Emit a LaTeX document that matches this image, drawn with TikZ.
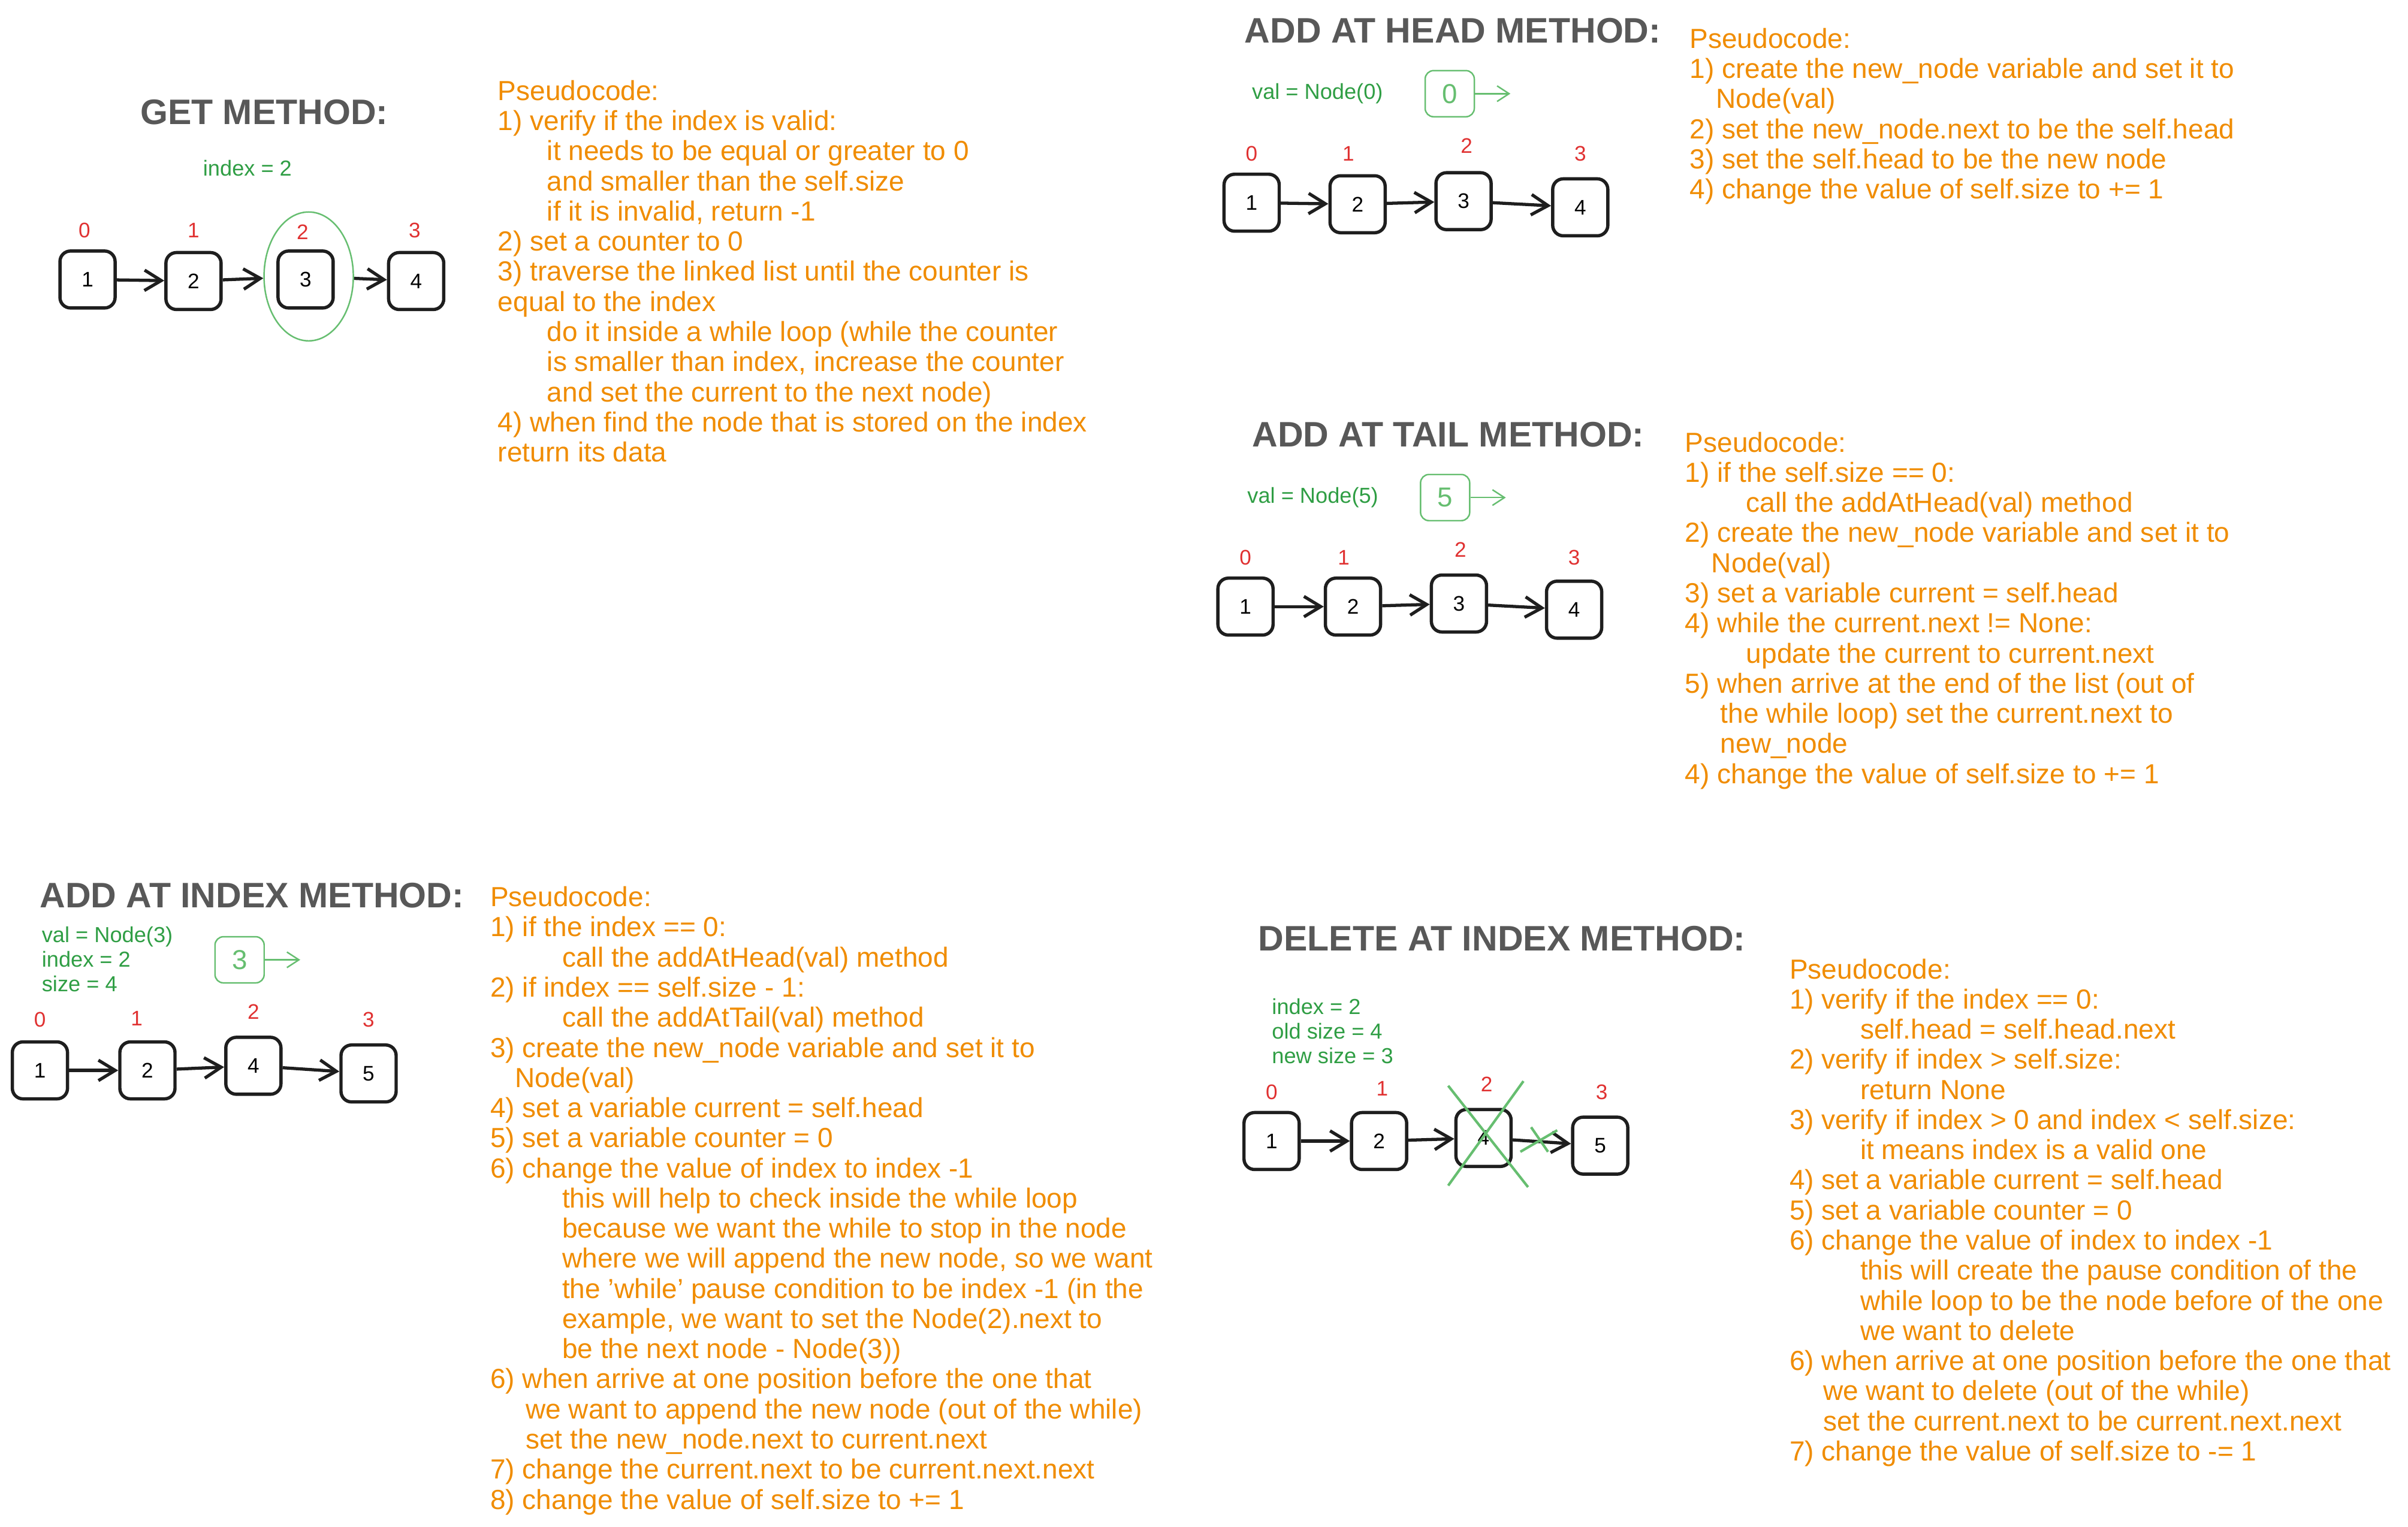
\documentclass[tikz,border=0pt]{standalone}
\usepackage{fontspec}
\setmainfont{Liberation Sans}
\usetikzlibrary{arrows.meta,positioning,shapes.geometric}
\definecolor{codeorange}{RGB}{240,140,0}
\definecolor{vargreen}{RGB}{47,158,68}
\definecolor{markgreen}{RGB}{102,190,112}
\definecolor{idxred}{RGB}{224,49,49}
\definecolor{titlegray}{RGB}{88,88,88}
\definecolor{boxblack}{RGB}{30,30,30}

\begin{document}
\begin{tikzpicture}[x=0.025625cm, y=-0.025625cm,
    nodebox/.style={rectangle, rounded corners=5pt, draw=boxblack, line width=1.55pt,
                    minimum width=0.92cm, minimum height=0.95cm, inner sep=0pt,
                    font=\fontsize{10}{12}\selectfont},
    newbox/.style={rectangle, rounded corners=4pt, draw=markgreen, line width=0.7pt,
                   minimum width=0.82cm, minimum height=0.77cm, inner sep=0pt,
                   text=markgreen, font=\fontsize{13}{15}\selectfont},
    idx/.style={text=idxred, font=\fontsize{10}{12}\selectfont, inner sep=0pt},
    vars/.style={text=vargreen, font=\fontsize{10.3}{11.7}\selectfont,
                 align=left, anchor=north west, inner sep=0pt},
    heading/.style={text=titlegray, font=\fontsize{16.8}{20}\selectfont\bfseries, inner sep=0pt},
    pseudo/.style={text=codeorange, font=\fontsize{13.1}{14.3}\selectfont,
                   align=left, anchor=north west, inner sep=0pt},
    link/.style={-{Straight Barb[length=2.8mm,width=3.4mm]}, line width=1.5pt, draw=boxblack},
    newlink/.style={-{Straight Barb[length=2mm,width=2.6mm]}, line width=0.7pt, draw=markgreen},
    cross/.style={draw=markgreen, line width=1.2pt}
  ]
    \fill[white] (0,0) rectangle (1568,994);
    \useasboundingbox (0,0) rectangle (1568,994);

    % get method
    \node[heading] (gettitle) at (172,73) {GET METHOD:};
    \node[vars] (getvars) at (132,104) {index = 2};
    \node[idx] (gi0) at (55,150) {0};
    \node[idx] (gi1) at (126,150) {1};
    \node[idx] (gi2) at (197,151) {2};
    \node[idx] (gi3) at (270,150) {3};
    \node[nodebox] (g1) at (57,182) {1};
    \node[nodebox] (g2) at (126,183) {2};
    \node[nodebox] (g3) at (199,182) {3};
    \node[nodebox] (g4) at (271,183) {4};
    \node[ellipse, draw=markgreen, line width=0.7pt, minimum width=1.49cm,
          minimum height=2.15cm, inner sep=0pt] (ring) at (201,180) {};
    \draw[link] (g1) -- (g2);
    \draw[link] (g2) -- (ring);
    \draw[link] (ring) -- (g4);
    \node[pseudo] (getcode) at (324,52) {Pseudocode:\\
      1) verify if the index is valid:\\
      \hspace*{0.82cm}it needs to be equal or greater to 0\\
      \hspace*{0.82cm}and smaller than the self.size\\
      \hspace*{0.82cm}if it is invalid, return -1\\
      2) set a counter to 0\\
      3) traverse the linked list until the counter is\\
      equal to the index\\
      \hspace*{0.82cm}do it inside a while loop (while the counter\\
      \hspace*{0.82cm}is smaller than index, increase the counter\\
      \hspace*{0.82cm}and set the current to the next node)\\
      4) when find the node that is stored on the index\\
      return its data};

    % add at head method
    \node[heading] (headtitle) at (946,20) {ADD AT HEAD METHOD:};
    \node[vars] (headvars) at (815,54) {val = Node(0)};
    \node[newbox] (hnew) at (944,61) {0};
    \coordinate[right=0.59cm of hnew] (hnewtip);
    \draw[newlink] (hnew) -- (hnewtip);
    \node[idx] (hi0) at (815,100) {0};
    \node[idx] (hi1) at (878,100) {1};
    \node[idx] (hi2) at (955,95) {2};
    \node[idx] (hi3) at (1029,100) {3};
    \node[nodebox] (h1) at (815,132) {1};
    \node[nodebox] (h2) at (884,133) {2};
    \node[nodebox] (h3) at (953,131) {3};
    \node[nodebox] (h4) at (1029,135) {4};
    \draw[link] (h1) -- (h2);
    \draw[link] (h2) -- (h3);
    \draw[link] (h3) -- (h4);
    \node[pseudo] (headcode) at (1100,18) {Pseudocode:\\
      1) create the new\_node variable and set it to\\
      \hspace*{0.44cm}Node(val)\\
      2) set the new\_node.next to be the self.head\\
      3) set the self.head to be the new node\\
      4) change the value of self.size to += 1};

    % add at tail method
    \node[heading] (tailtitle) at (943,283) {ADD AT TAIL METHOD:};
    \node[vars] (tailvars) at (812,317) {val = Node(5)};
    \node[newbox] (tnew) at (941,324) {5};
    \coordinate[right=0.59cm of tnew] (tnewtip);
    \draw[newlink] (tnew) -- (tnewtip);
    \node[idx] (ti0) at (811,363) {0};
    \node[idx] (ti1) at (875,363) {1};
    \node[idx] (ti2) at (951,358) {2};
    \node[idx] (ti3) at (1025,363) {3};
    \node[nodebox] (t1) at (811,395) {1};
    \node[nodebox] (t2) at (881,395) {2};
    \node[nodebox] (t3) at (950,393) {3};
    \node[nodebox] (t4) at (1025,397) {4};
    \draw[link] (t1) -- (t2);
    \draw[link] (t2) -- (t3);
    \draw[link] (t3) -- (t4);
    \node[pseudo] (tailcode) at (1097,281) {Pseudocode:\\
      1) if the self.size == 0:\\
      \hspace*{1.02cm}call the addAtHead(val) method\\
      2) create the new\_node variable and set it to\\
      \hspace*{0.44cm}Node(val)\\
      3) set a variable current = self.head\\
      4) while the current.next != None:\\
      \hspace*{1.02cm}update the current to current.next\\
      5) when arrive at the end of the list (out of\\
      \hspace*{0.59cm}the while loop) set the current.next to\\
      \hspace*{0.59cm}new\_node\\
      4) change the value of self.size to += 1};

    % add at index method
    \node[heading] (indextitle) at (164,583) {ADD AT INDEX METHOD:};
    \node[vars] (indexvars) at (27,603) {val = Node(3)\\index = 2\\size = 4};
    \node[newbox] (inew) at (156,625) {3};
    \coordinate[right=0.59cm of inew] (inewtip);
    \draw[newlink] (inew) -- (inewtip);
    \node[idx] (ii0) at (26,664) {0};
    \node[idx] (ii1) at (89,663) {1};
    \node[idx] (ii2) at (165,659) {2};
    \node[idx] (ii3) at (240,664) {3};
    \node[nodebox] (i1) at (26,697) {1};
    \node[nodebox] (i2) at (96,697) {2};
    \node[nodebox] (i3) at (165,694) {4};
    \node[nodebox] (i4) at (240,699) {5};
    \draw[link] (i1) -- (i2);
    \draw[link] (i2) -- (i3);
    \draw[link] (i3) -- (i4);
    \node[pseudo] (indexcode) at (319,577) {Pseudocode:\\
      1) if the index == 0:\\
      \hspace*{1.2cm}call the addAtHead(val) method\\
      2) if index == self.size - 1:\\
      \hspace*{1.2cm}call the addAtTail(val) method\\
      3) create the new\_node variable and set it to\\
      \hspace*{0.41cm}Node(val)\\
      4) set a variable current = self.head\\
      5) set a variable counter = 0\\
      6) change the value of index to index -1\\
      \hspace*{1.2cm}this will help to check inside the while loop\\
      \hspace*{1.2cm}because we want the while to stop in the node\\
      \hspace*{1.2cm}where we will append the new node, so we want\\
      \hspace*{1.2cm}the 'while' pause condition to be index -1 (in the\\
      \hspace*{1.2cm}example, we want to set the Node(2).next to\\
      \hspace*{1.2cm}be the next node - Node(3))\\
      6) when arrive at one position before the one that\\
      \hspace*{0.59cm}we want to append the new node (out of the while)\\
      \hspace*{0.59cm}set the new\_node.next to current.next\\
      7) change the current.next to be current.next.next\\
      8) change the value of self.size to += 1};

    % delete at index method
    \node[heading] (deletetitle) at (978,611) {DELETE AT INDEX METHOD:};
    \node[vars] (deletevars) at (828,650) {index = 2\\old size = 4\\new size = 3};
    \node[idx] (di0) at (828,711) {0};
    \node[idx] (di1) at (900,709) {1};
    \node[idx] (di2) at (968,706) {2};
    \node[idx] (di3) at (1043,711) {3};
    \node[nodebox] (d1) at (828,743) {1};
    \node[nodebox] (d2) at (898,743) {2};
    \node[nodebox] (d3) at (966,741) {4};
    \node[nodebox] (d4) at (1042,746) {5};
    \draw[link] (d1) -- (d2);
    \draw[link] (d2) -- (d3);
    \draw[link] (d3) -- (d4);
    \draw[cross] (943,707) -- (995,773);
    \draw[cross] (992,704) -- (943,772);
    \draw[cross] (997,734) -- (1008,750);
    \draw[cross] (1014,736) -- (990,750);
    \node[pseudo] (deletecode) at (1165,624) {Pseudocode:\\
      1) verify if the index == 0:\\
      \hspace*{1.18cm}self.head = self.head.next\\
      2) verify if index > self.size:\\
      \hspace*{1.18cm}return None\\
      3) verify if index > 0 and index < self.size:\\
      \hspace*{1.18cm}it means index is a valid one\\
      4) set a variable current = self.head\\
      5) set a variable counter = 0\\
      6) change the value of index to index -1\\
      \hspace*{1.18cm}this will create the pause condition of the\\
      \hspace*{1.18cm}while loop to be the node before of the one\\
      \hspace*{1.18cm}we want to delete\\
      6) when arrive at one position before the one that\\
      \hspace*{0.56cm}we want to delete (out of the while)\\
      \hspace*{0.56cm}set the current.next to be current.next.next\\
      7) change the value of self.size to -= 1};
  \end{tikzpicture}
\end{document}
